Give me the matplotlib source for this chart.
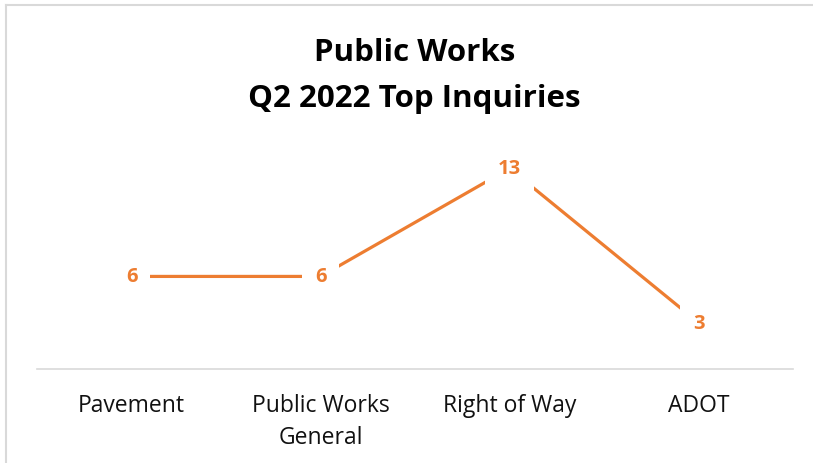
import matplotlib
matplotlib.use("Agg")
import matplotlib.pyplot as plt
from matplotlib.lines import Line2D

categories = ["Pavement", "Public Works\nGeneral", "Right of Way", "ADOT"]
inquiries = [6, 6, 13, 3]

orange = "#ED7D31"
plt.rcParams["font.family"] = ["Open Sans", "DejaVu Sans"]

fig = plt.figure(figsize=(8.13, 4.64), dpi=100)
ax = fig.add_axes([0.0455, 0.2026, 0.93, 0.4655])

x = list(range(len(categories)))
ax.plot(x, inquiries, color=orange, lw=2.3, solid_capstyle="butt", zorder=2)
for xi, v in zip(x, inquiries):
    ax.text(xi, v, str(v), ha="center", va="center", color=orange,
            fontsize=14.5, fontweight="bold", zorder=3,
            bbox=dict(boxstyle="square,pad=0.65", fc="white", ec="none"))

ax.set_xlim(-0.5, 3.5)
ax.set_ylim(0, 14)
ax.set_xticks(x)
ax.set_xticklabels(categories, fontsize=16.5, color="#111111", linespacing=1.45, va="top")
ax.tick_params(axis="x", length=0, pad=17)
ax.set_yticks([])
for s in ["top", "right", "left"]:
    ax.spines[s].set_visible(False)
ax.spines["bottom"].set_color("#D9D9D9")
ax.spines["bottom"].set_linewidth(1.2)

fig.text(0.51, 0.836, "Public Works\nQ2 2022 Top Inquiries", ha="center", va="center",
         fontsize=22.5, fontweight="bold", color="black", linespacing=1.7)

# chart frame edges (top and left visible in the crop)
fig.add_artist(Line2D([0.0074, 1.0], [0.9871, 0.9871], color="#D9D9D9", lw=1.5))
fig.add_artist(Line2D([0.0074, 0.0074], [0.0, 0.9871], color="#D9D9D9", lw=1.5))

fig.savefig("out.png", dpi=100)
